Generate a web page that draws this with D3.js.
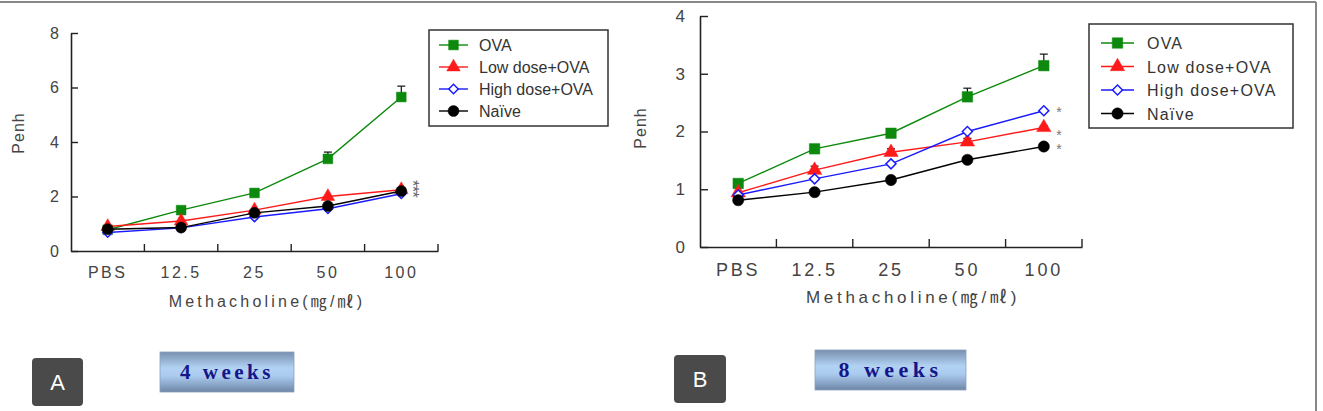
<!DOCTYPE html>
<html>
<head>
<meta charset="utf-8">
<script src="https://cdn.jsdelivr.net/npm/d3@7"></script>
<style>
  body { margin: 0; background: #fff; }
  svg { display: block; }
  text { font-family: "Liberation Sans", Arial, "Noto Sans CJK KR", sans-serif; }
</style>
</head>
<body>
<div id="chart"></div>
<script>
// categories (methacholine dose)
var doses = ['PBS', '12.5', '25', '50', '100'];
var seriesNames = ['OVA', 'Low dose+OVA', 'High dose+OVA', 'Naïve'];

// 4 weeks (panel A)
var ovaA   = [0.78, 1.50, 2.13, 3.38, 5.65];
var lowA   = [0.90, 1.10, 1.50, 2.00, 2.25];
var highA  = [0.68, 0.85, 1.25, 1.55, 2.10];
var naiveA = [0.80, 0.86, 1.40, 1.65, 2.20];
var ovaErrA = [0, 0, 0, 0.25, 0.40];
var yTicksA = [0, 2, 4, 6, 8];
var starsA = [2.50, 2.30, 2.08];

// 8 weeks (panel B)
var ovaB   = [1.10, 1.70, 1.97, 2.60, 3.14];
var lowB   = [0.94, 1.33, 1.64, 1.82, 2.07];
var highB  = [0.90, 1.18, 1.44, 2.00, 2.36];
var naiveB = [0.81, 0.95, 1.16, 1.51, 1.74];
var ovaErrB = [0.02, 0.03, 0.03, 0.15, 0.20];
var lowErrB = [0, 0.07, 0.06, 0.06, 0.03];
var yTicksB = [0, 1, 2, 3, 4];
var starsB = [2.39, 1.99, 1.75];

var colors = ['#0d8a0d', '#ff1a1a', '#1a1aff', '#000000'];
var markers = [d3.symbolSquare, d3.symbolTriangle, d3.symbolSquare, d3.symbolCircle];
var markerRot = [0, 0, 45, 0];

var W = 1323, H = 411;
var svg = d3.select('#chart').append('svg').attr('width', W).attr('height', H);

// outer frame (top and right edges)
svg.append('line').attr('x1', 0).attr('x2', 1316).attr('y1', 2).attr('y2', 2)
  .attr('stroke', '#888').attr('stroke-width', 2);
svg.append('line').attr('x1', 1316).attr('x2', 1316).attr('y1', 2).attr('y2', H)
  .attr('stroke', '#888').attr('stroke-width', 2);

var defs = svg.append('defs');
var grad = defs.append('linearGradient').attr('id', 'weekgrad')
  .attr('x1', 0).attr('y1', 0).attr('x2', 0).attr('y2', 1);
grad.append('stop').attr('offset', '0%').attr('stop-color', '#7890ae');
grad.append('stop').attr('offset', '40%').attr('stop-color', '#b2d2f4');
grad.append('stop').attr('offset', '60%').attr('stop-color', '#aacbef');
grad.append('stop').attr('offset', '100%').attr('stop-color', '#6f86a6');

function marker(sel, si, size) {
  sel.attr('d', d3.symbol().type(markers[si]).size(size))
    .attr('fill', si === 2 ? '#fff' : colors[si])
    .attr('stroke', colors[si]).attr('stroke-width', si === 2 ? 1.5 : 0.5);
}

function drawPanel(p) {
  var g = svg.append('g');
  var x = d3.scaleBand().domain(doses).range([p.left, p.right]).paddingInner(0).paddingOuter(0);
  var y = d3.scaleLinear().domain([0, p.ymax]).range([p.bottom, p.top]);

  // y axis
  var yAxis = g.append('g').attr('transform', 'translate(' + p.left + ',0)')
    .call(d3.axisLeft(y).tickValues(p.yTicks).tickFormat(d3.format('d'))
      .tickSize(-p.tick).tickPadding(p.yPad).tickSizeOuter(0));
  yAxis.select('.domain').attr('stroke', '#222').attr('stroke-width', 1.6);
  yAxis.selectAll('.tick line').attr('stroke', '#222').attr('stroke-width', 1.4);
  yAxis.selectAll('.tick text').attr('font-size', p.yfs).attr('fill', '#444')
    .style('font-family', '"Liberation Sans", Arial, sans-serif');

  // x axis: labels centered in bands, ticks at band edges pointing up
  var xAxis = g.append('g').attr('transform', 'translate(0,' + p.bottom + ')')
    .call(d3.axisBottom(x).tickSize(0).tickPadding(p.xPad).tickSizeOuter(0));
  xAxis.select('.domain').attr('stroke', '#222').attr('stroke-width', 1.6);
  xAxis.selectAll('.tick text').attr('font-size', p.fs).attr('fill', '#444')
    .attr('letter-spacing', p.ls).style('font-family', '"Liberation Sans", Arial, sans-serif');
  var edges = doses.slice(1).map(function(d) { return x(d); }).concat([x.range()[1]]);
  g.selectAll('.xtick').data(edges).enter().append('line')
    .attr('x1', function(d) { return d; }).attr('x2', function(d) { return d; })
    .attr('y1', p.bottom).attr('y2', p.bottom - p.tick)
    .attr('stroke', '#222').attr('stroke-width', 1.4);

  // axis titles
  g.append('text').attr('transform', 'translate(' + p.penhX + ',' + p.penhY + ') rotate(-90)')
    .attr('text-anchor', 'middle').attr('font-size', 16).attr('fill', '#444')
    .attr('letter-spacing', 1).text('Penh');
  g.append('text').attr('x', p.titleX).attr('y', p.titleY)
    .attr('text-anchor', 'middle').attr('font-size', p.titleFs).attr('fill', '#444')
    .attr('letter-spacing', p.titleLs).text('Methacholine(㎎/㎖)');

  var cx = function(i) { return x(doses[i]) + x.bandwidth() / 2; };

  // error bars (upward only)
  p.series.forEach(function(s, si) {
    if (!p.errs[si]) return;
    s.forEach(function(v, i) {
      var e = p.errs[si][i];
      if (!e) return;
      var top = y(v + e);
      g.append('line').attr('x1', cx(i)).attr('x2', cx(i)).attr('y1', y(v)).attr('y2', top)
        .attr('stroke', '#111').attr('stroke-width', 1.2);
      g.append('line').attr('x1', cx(i) - 4).attr('x2', cx(i) + 4).attr('y1', top).attr('y2', top)
        .attr('stroke', '#111').attr('stroke-width', 1.2);
    });
  });

  // lines and markers
  var line = d3.line().x(function(d, i) { return cx(i); }).y(function(d) { return y(d); });
  p.series.forEach(function(s, si) {
    g.append('path').datum(s).attr('d', line).attr('fill', 'none')
      .attr('stroke', colors[si]).attr('stroke-width', 1.4);
    g.selectAll('.m' + si).data(s).enter().append('path')
      .attr('transform', function(d, i) {
        return 'translate(' + cx(i) + ',' + y(d) + ') rotate(' + markerRot[si] + ')';
      })
      .call(marker, si, p.msize[si]);
  });

  // significance stars
  if (p.stackStars) {
    // drawn as one vertical "***" column, like the original
    g.append('text')
      .attr('transform', 'translate(' + p.starX + ',' + y(d3.mean(p.stars)) + ') rotate(90)')
      .attr('dy', '0.55em').attr('text-anchor', 'middle').attr('font-size', 17)
      .attr('letter-spacing', -1).attr('fill', '#666')
      .text(p.stars.map(function() { return '*'; }).join(''));
  } else {
    g.selectAll('.star').data(p.stars).enter().append('text')
      .attr('x', p.starX).attr('y', function(d) { return y(d) + 8; })
      .attr('text-anchor', 'middle').attr('font-size', 14).attr('fill', '#777').text('*');
  }

  // legend
  var lg = g.append('g');
  lg.append('rect').attr('x', p.lgX).attr('y', p.lgY).attr('width', p.lgW).attr('height', p.lgH)
    .attr('fill', '#fff').attr('stroke', '#333').attr('stroke-width', 1.5);
  seriesNames.forEach(function(name, si) {
    var ly = p.lgY + p.lgFirst + si * p.lgStep;
    lg.append('line').attr('x1', p.lgX + p.lgL0).attr('x2', p.lgX + p.lgL0 + p.lgLen)
      .attr('y1', ly).attr('y2', ly).attr('stroke', colors[si]).attr('stroke-width', 1.4);
    lg.append('path')
      .attr('transform', 'translate(' + (p.lgX + p.lgL0 + p.lgLen / 2) + ',' + ly + ') rotate(' + markerRot[si] + ')')
      .call(marker, si, p.msize[si]);
    lg.append('text').attr('x', p.lgX + p.lgTx).attr('y', ly + 6)
      .attr('font-size', 16).attr('fill', '#333').attr('letter-spacing', p.lgLs).text(name);
  });

  // panel letter
  g.append('rect').attr('x', p.letX).attr('y', p.letY).attr('width', p.letW).attr('height', p.letH)
    .attr('rx', 4).attr('fill', '#4a4a4a');
  g.append('text').attr('x', p.letX + p.letW / 2).attr('y', p.letY + p.letH / 2 + 8)
    .attr('text-anchor', 'middle').attr('font-size', 22).attr('fill', '#fff').text(p.letter);

  // weeks label
  g.append('rect').attr('x', p.wkX).attr('y', p.wkY).attr('width', p.wkW).attr('height', p.wkH)
    .attr('fill', 'url(#weekgrad)').attr('stroke', '#8aa0bc').attr('stroke-width', 0.8);
  g.append('text').attr('x', p.wkX + p.wkW / 2).attr('y', p.wkY + p.wkH / 2 + 7)
    .attr('text-anchor', 'middle').attr('font-size', p.wkFs).attr('font-weight', 'bold')
    .attr('letter-spacing', p.wkLs).attr('fill', '#15158a')
    .style('font-family', '"Liberation Serif", "Times New Roman", serif').text(p.weeks);
}

drawPanel({
  left: 71, right: 438, top: 33, bottom: 251, ymax: 8, yTicks: yTicksA,
  tick: 7, yPad: 12, xPad: 16, fs: 16, yfs: 16, ls: 2.5,
  series: [ovaA, lowA, highA, naiveA], errs: [ovaErrA, null, null, null],
  msize: [95, 80, 45, 95],
  penhX: 24, penhY: 133, titleX: 267, titleY: 307, titleFs: 16, titleLs: 3.2,
  stars: starsA, starX: 416, stackStars: true,
  lgX: 429, lgY: 30, lgW: 179, lgH: 96, lgFirst: 15, lgStep: 22, lgL0: 10, lgLen: 29, lgTx: 50, lgLs: 0,
  letter: 'A', letX: 32, letY: 358, letW: 51, letH: 48,
  weeks: '4 weeks', wkX: 160, wkY: 352, wkW: 134, wkH: 40, wkFs: 21, wkLs: 3.5
});

drawPanel({
  left: 700, right: 1082, top: 16, bottom: 247, ymax: 4, yTicks: yTicksB,
  tick: 8, yPad: 15, xPad: 16, fs: 18, yfs: 17, ls: 2.8,
  series: [ovaB, lowB, highB, naiveB], errs: [ovaErrB, lowErrB, null, null],
  msize: [110, 90, 50, 100],
  penhX: 646, penhY: 128, titleX: 913, titleY: 303, titleFs: 17, titleLs: 3.7,
  stars: starsB, starX: 1059, stackStars: false,
  lgX: 1089, lgY: 24, lgW: 204, lgH: 104, lgFirst: 19, lgStep: 23.5, lgL0: 12, lgLen: 33, lgTx: 58, lgLs: 1.2,
  letter: 'B', letX: 674, letY: 355, letW: 52, letH: 48,
  weeks: '8 weeks', wkX: 815, wkY: 350, wkW: 151, wkH: 40, wkFs: 22, wkLs: 4.5
});
</script>
</body>
</html>
